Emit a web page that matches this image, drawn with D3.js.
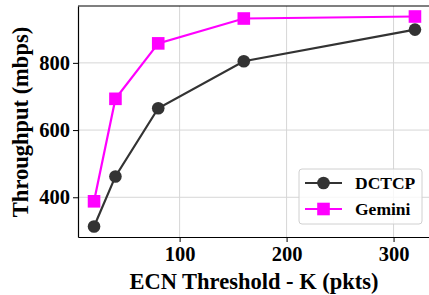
<!DOCTYPE html>
<html>
<head>
<meta charset="utf-8">
<script src="https://cdn.jsdelivr.net/npm/d3@7"></script>
<style>
  body { margin: 0; background: #fff; }
  text { font-family: "Liberation Serif", "Times New Roman", serif; font-weight: bold; }
</style>
</head>
<body>
<div id="chart"></div>
<script>
var thresholds = [20, 40, 80, 160, 320];
var dctcp = [313, 462, 665, 805, 899];
var gemini = [388, 693, 858, 932, 938];
var xTicks = [100, 200, 300];
var yTicks = [400, 600, 800];

var width = 429, height = 295;
var mLeft = 78, mTop = 6, mRight = 431, mBottom = 237;

var svg = d3.select("#chart").append("svg")
  .attr("width", width).attr("height", height);

var x = d3.scaleLinear().domain([5, 335]).range([mLeft, mRight]);
var y = d3.scaleLinear().domain([281.75, 969.25]).range([mBottom, mTop]);

// grid
svg.append("g").selectAll("line").data(xTicks).enter().append("line")
  .attr("x1", d => x(d)).attr("x2", d => x(d))
  .attr("y1", mTop).attr("y2", mBottom)
  .attr("stroke", "#d6d6d6").attr("stroke-width", 1);
svg.append("g").selectAll("line").data(yTicks).enter().append("line")
  .attr("x1", mLeft).attr("x2", mRight)
  .attr("y1", d => y(d)).attr("y2", d => y(d))
  .attr("stroke", "#d6d6d6").attr("stroke-width", 1);

// axes
var xAxis = svg.append("g").attr("transform", "translate(0," + mBottom + ")")
  .call(d3.axisBottom(x).tickValues(xTicks).tickSize(5).tickPadding(4).tickSizeOuter(0));
var yAxis = svg.append("g").attr("transform", "translate(" + mLeft + ",0)")
  .call(d3.axisLeft(y).tickValues(yTicks).tickSize(5).tickPadding(3).tickSizeOuter(0));
[xAxis, yAxis].forEach(function (a) {
  a.select(".domain").attr("stroke", "#000").attr("stroke-width", 1.2);
  a.selectAll(".tick line").attr("stroke", "#000");
  a.selectAll("text").attr("font-size", 20.5).attr("fill", "#000")
    .attr("font-family", "Liberation Serif").attr("font-weight", "bold");
});
svg.append("line").attr("x1", mLeft).attr("x2", mRight).attr("y1", mTop).attr("y2", mTop)
  .attr("stroke", "#000").attr("stroke-width", 1.2);

// labels
svg.append("text").attr("x", 254).attr("y", 289).attr("text-anchor", "middle")
  .attr("font-size", 22.5).text("ECN Threshold - K (pkts)");
svg.append("text").attr("transform", "translate(28,122) rotate(-90)")
  .attr("text-anchor", "middle").attr("font-size", 22.5).text("Throughput (mbps)");

var line = d3.line().x((d, i) => x(thresholds[i])).y(d => y(d));

function drawSeries(vals, color, shape) {
  svg.append("path").datum(vals).attr("d", line)
    .attr("fill", "none").attr("stroke", color).attr("stroke-width", 2.2);
  var g = svg.append("g");
  if (shape === "circle") {
    g.selectAll("circle").data(vals).enter().append("circle")
      .attr("cx", (d, i) => x(thresholds[i])).attr("cy", d => y(d))
      .attr("r", 6.3).attr("fill", color);
  } else {
    g.selectAll("rect").data(vals).enter().append("rect")
      .attr("x", (d, i) => x(thresholds[i]) - 6.3).attr("y", d => y(d) - 6.3)
      .attr("width", 12.6).attr("height", 12.6).attr("fill", color);
  }
}
drawSeries(dctcp, "#333333", "circle");
drawSeries(gemini, "#ff00ff", "square");

// legend
var lg = svg.append("g");
lg.append("rect").attr("x", 299).attr("y", 169).attr("width", 123).attr("height", 55)
  .attr("rx", 3).attr("fill", "#fff").attr("fill-opacity", 0.8)
  .attr("stroke", "#d0d0d0").attr("stroke-width", 1);
var items = [["DCTCP", "#333333", "circle"], ["Gemini", "#ff00ff", "square"]];
items.forEach(function (it, i) {
  var cy = 183 + i * 26;
  lg.append("line").attr("x1", 305).attr("x2", 342).attr("y1", cy).attr("y2", cy)
    .attr("stroke", it[1]).attr("stroke-width", 2.2);
  if (it[2] === "circle") {
    lg.append("circle").attr("cx", 323.5).attr("cy", cy).attr("r", 6.3).attr("fill", it[1]);
  } else {
    lg.append("rect").attr("x", 317.2).attr("y", cy - 6.3).attr("width", 12.6).attr("height", 12.6).attr("fill", it[1]);
  }
  lg.append("text").attr("x", 355).attr("y", cy + 6).attr("font-size", 17.5).text(it[0]);
});
</script>
</body>
</html>
